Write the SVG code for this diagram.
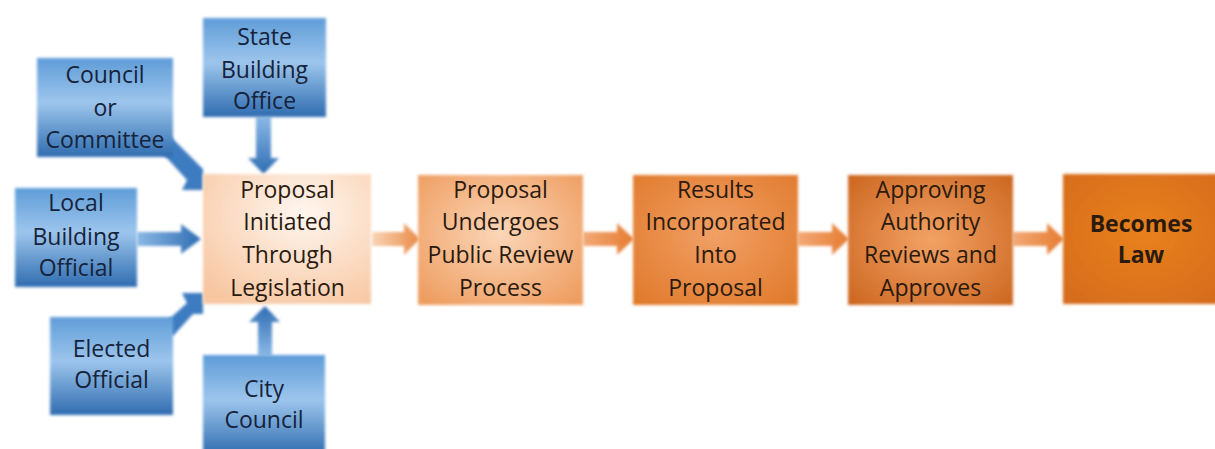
<svg xmlns="http://www.w3.org/2000/svg" width="1215" height="449" viewBox="0 0 1215 449">
<defs>
  <filter id="soft" x="-10%" y="-10%" width="120%" height="120%"><feGaussianBlur stdDeviation="1.6"/></filter>
  <linearGradient id="blueBox" x1="0" y1="0" x2="0" y2="1">
    <stop offset="0" stop-color="#5f9cd8"/>
    <stop offset="0.45" stop-color="#9cc5ec"/>
    <stop offset="1" stop-color="#2f6cb0"/>
  </linearGradient>
  <linearGradient id="blueArrowV" x1="0" y1="0" x2="0" y2="1">
    <stop offset="0" stop-color="#8ab8e6"/>
    <stop offset="1" stop-color="#2f6db3"/>
  </linearGradient>
  <linearGradient id="blueArrowVu" x1="0" y1="1" x2="0" y2="0">
    <stop offset="0" stop-color="#8ab8e6"/>
    <stop offset="1" stop-color="#2f6db3"/>
  </linearGradient>
  <linearGradient id="blueArrowH" x1="0" y1="0" x2="1" y2="0">
    <stop offset="0" stop-color="#8ab8e6"/>
    <stop offset="1" stop-color="#2f6db3"/>
  </linearGradient>
  <radialGradient id="o1" cx="0.6" cy="0.3" r="0.8">
    <stop offset="0" stop-color="#fff6ef"/>
    <stop offset="1" stop-color="#f7c7a2"/>
  </radialGradient>
  <radialGradient id="o2" cx="0.5" cy="0.45" r="0.7">
    <stop offset="0" stop-color="#fbd6b9"/>
    <stop offset="1" stop-color="#ee9c5e"/>
  </radialGradient>
  <radialGradient id="o3" cx="0.5" cy="0.45" r="0.7">
    <stop offset="0" stop-color="#f1a066"/>
    <stop offset="1" stop-color="#e07a2c"/>
  </radialGradient>
  <radialGradient id="o4" cx="0.5" cy="0.5" r="0.7">
    <stop offset="0" stop-color="#f2a265"/>
    <stop offset="1" stop-color="#cc6620"/>
  </radialGradient>
  <radialGradient id="o5" cx="0.5" cy="0.45" r="0.75">
    <stop offset="0" stop-color="#e8811f"/>
    <stop offset="1" stop-color="#d46a1c"/>
  </radialGradient>
  <linearGradient id="oArrow" x1="0" y1="0" x2="1" y2="0">
    <stop offset="0" stop-color="#f9d4b6"/>
    <stop offset="1" stop-color="#ea8a45"/>
  </linearGradient>
  <linearGradient id="oArrow2" x1="0" y1="0" x2="1" y2="0">
    <stop offset="0" stop-color="#f3a977"/>
    <stop offset="1" stop-color="#e57c30"/>
  </linearGradient>
</defs>
<style>
  .bt { font-family: "Open Sans", "Liberation Sans", sans-serif; font-size: 23px; fill: #16233a; text-anchor: middle; }
  .ot { font-family: "Open Sans", "Liberation Sans", sans-serif; font-size: 23px; fill: #2b1a0e; text-anchor: middle; }
  .ob { font-weight: bold; }
  .bbox { fill: url(#blueBox); filter: url(#soft); }
</style>
<rect width="1215" height="449" fill="#ffffff"/>

<g id="connectors">
  <g filter="url(#soft)">
    <path d="M256,117 L271,117 L271,158 L279,158 L263.5,174 L248,158 L256,158 Z" fill="url(#blueArrowV)"/>
    <path d="M258,356 L272,356 L272,322 L280,322 L265,306 L249,322 L258,322 Z" fill="url(#blueArrowVu)"/>
    <path d="M137,232 L181,232 L181,224 L201,239 L181,254 L181,246 L137,246 Z" fill="url(#blueArrowH)"/>
    <path d="M160,146 L170,136 L193,159 L203,169 L203,190 L182,190 L187,180 L165,156 Z" fill="#3d7cc0"/>
    <path d="M163,326 L173,336 L193,314 L203,314 L203,293 L182,293 L187,303 L166,322 Z" fill="#3d7cc0"/>
    <path d="M372,232 L404,232 L404,223 L420,239 L404,255 L404,246 L372,246 Z" fill="url(#oArrow)"/>
    <path d="M583,232 L617,232 L617,223 L634,239 L617,255 L617,246 L583,246 Z" fill="url(#oArrow2)"/>
    <path d="M798,232 L832,232 L832,223 L849,239 L832,255 L832,246 L798,246 Z" fill="url(#oArrow2)"/>
    <path d="M1013,232 L1047,232 L1047,223 L1064,239 L1047,255 L1047,246 L1013,246 Z" fill="url(#oArrow2)"/>
  </g>
</g>

<g id="council">
  <rect class="bbox" x="37" y="58" width="136" height="99"/>
  <text class="bt" x="105" y="83">Council</text>
  <text class="bt" x="105" y="116">or</text>
  <text class="bt" x="105" y="148">Committee</text>
</g>
<g id="state">
  <rect class="bbox" x="203" y="18" width="123" height="99"/>
  <text class="bt" x="264.5" y="45">State</text>
  <text class="bt" x="264.5" y="78">Building</text>
  <text class="bt" x="264.5" y="109">Office</text>
</g>
<g id="local">
  <rect class="bbox" x="15" y="188" width="122" height="99"/>
  <text class="bt" x="76" y="211">Local</text>
  <text class="bt" x="76" y="245">Building</text>
  <text class="bt" x="76" y="276">Official</text>
</g>
<g id="elected">
  <rect class="bbox" x="50" y="317" width="123" height="98"/>
  <text class="bt" x="111.5" y="357">Elected</text>
  <text class="bt" x="111.5" y="388">Official</text>
</g>
<g id="city">
  <rect class="bbox" x="203" y="355" width="122" height="100"/>
  <text class="bt" x="264" y="397">City</text>
  <text class="bt" x="264" y="428">Council</text>
</g>

<g id="initiated">
  <rect x="203" y="174" width="168" height="130" fill="url(#o1)" filter="url(#soft)"/>
  <text class="ot" x="287.5" y="198">Proposal</text>
  <text class="ot" x="287.5" y="230">Initiated</text>
  <text class="ot" x="287.5" y="263">Through</text>
  <text class="ot" x="287.5" y="296">Legislation</text>
</g>
<g id="review">
  <rect x="418" y="175" width="165" height="130" fill="url(#o2)" filter="url(#soft)"/>
  <text class="ot" x="500.5" y="198">Proposal</text>
  <text class="ot" x="500.5" y="230">Undergoes</text>
  <text class="ot" x="500.5" y="263">Public Review</text>
  <text class="ot" x="500.5" y="296">Process</text>
</g>
<g id="results">
  <rect x="633" y="175" width="165" height="130" fill="url(#o3)" filter="url(#soft)"/>
  <text class="ot" x="715.5" y="198">Results</text>
  <text class="ot" x="715.5" y="230">Incorporated</text>
  <text class="ot" x="715.5" y="263">Into</text>
  <text class="ot" x="715.5" y="296">Proposal</text>
</g>
<g id="approving">
  <rect x="848" y="175" width="165" height="130" fill="url(#o4)" filter="url(#soft)"/>
  <text class="ot" x="930.5" y="198">Approving</text>
  <text class="ot" x="930.5" y="230">Authority</text>
  <text class="ot" x="930.5" y="263">Reviews and</text>
  <text class="ot" x="930.5" y="296">Approves</text>
</g>
<g id="law">
  <rect x="1063" y="174" width="160" height="130" fill="url(#o5)" filter="url(#soft)"/>
  <text class="ot ob" x="1141" y="232">Becomes</text>
  <text class="ot ob" x="1141" y="263">Law</text>
</g>
</svg>
